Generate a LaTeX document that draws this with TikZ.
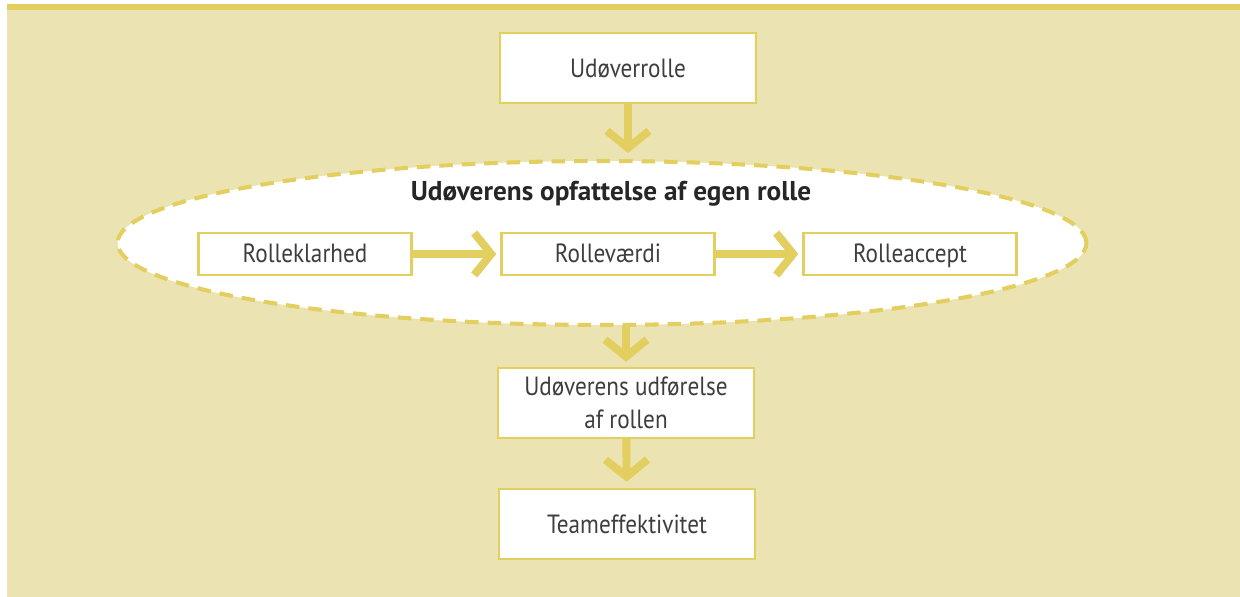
\documentclass[tikz,border=0pt]{standalone}
\usepackage{fontspec}
\setmainfont{PT Sans}[FakeStretch=0.88]
\newfontfamily\headfont{PT Sans}
\usetikzlibrary{arrows.meta,shapes.geometric}
\definecolor{panel}{RGB}{235,228,178}
\definecolor{gold}{RGB}{227,206,96}
\definecolor{ink}{RGB}{62,62,62}
\begin{document}
\begin{tikzpicture}[x=0.02cm,y=-0.02cm,
    box/.style = {draw=gold, line width=1.4pt, fill=white, text=ink,
                  font=\fontsize{15}{19}\selectfont, align=center, inner sep=0pt,
                  minimum width=5.12cm, minimum height=1.4cm},
    smallbox/.style = {box, minimum width=4.26cm, minimum height=0.84cm,
                       text height=13pt, text depth=3pt},
    flow/.style = {draw=gold, line width=4.5pt, -{Straight Barb[length=3.4mm,width=8.4mm]}}]
    \useasboundingbox (0,0) rectangle (1240,597);
    \fill[panel] (7,5) rectangle (1240,597);
    \draw[gold, line width=3pt] (7,7) -- (1240,7);

    \node[box] (rolle) at (628,68) {Udøverrolle};
    \node[ellipse, draw=gold, fill=white, line width=2.3pt,
          dash pattern=on 0.27cm off 0.18cm,
          minimum width=19.38cm, minimum height=3.28cm] (opf) at (602,243) {};
    \node[text=black!85, font=\fontsize{15.5}{18}\selectfont\headfont\bfseries] (title) at (611,194)
        {Udøverens opfattelse af egen rolle};
    \node[smallbox] (klar)   at (305,254) {Rolleklarhed};
    \node[smallbox] (vaerdi) at (608,254) {Rolleværdi};
    \node[smallbox] (accept) at (910,254) {Rolleaccept};
    \node[box] (udf)  at (626,403) {Udøverens udførelse\\af rollen};
    \node[box] (team) at (627,524) {Teameffektivitet};

    \coordinate (opftop) at (628,153);
    \coordinate (opfbot) at (626,325);

    \draw[flow] (rolle) -- (opftop);
    \draw[flow, shorten >=0.08cm] (klar) -- (vaerdi);
    \draw[flow, shorten >=0.08cm] (vaerdi) -- (accept);
    \draw[flow, shorten >=0.1cm] (opfbot) -- (udf);
    \draw[flow, shorten >=0.12cm] (udf) -- (team);
\end{tikzpicture}
\end{document}
